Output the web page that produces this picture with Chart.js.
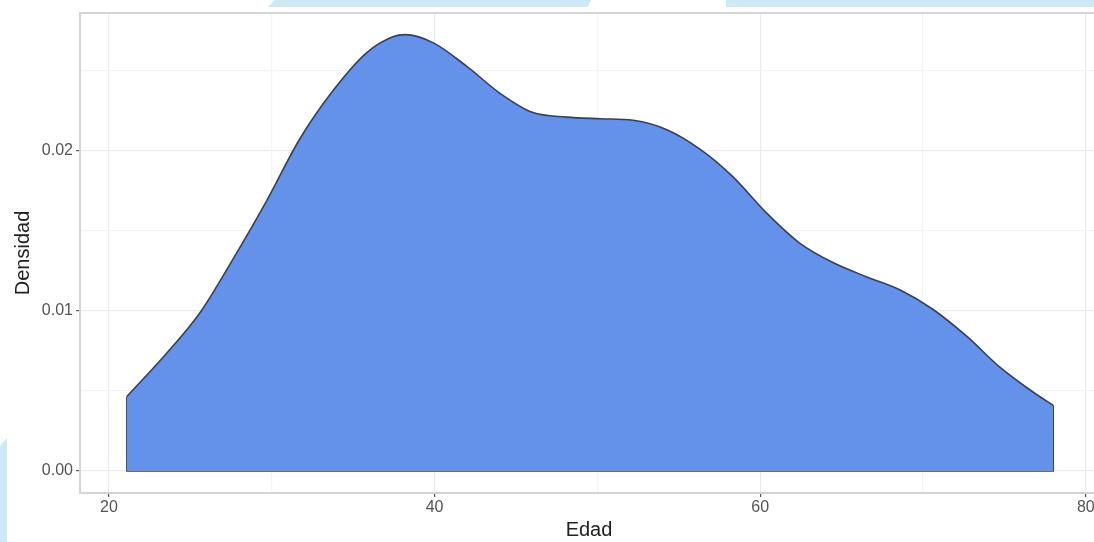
<!DOCTYPE html>
<html>
<head>
<meta charset="utf-8">
<script src="https://cdn.jsdelivr.net/npm/chart.js@4"></script>
<style>
  html, body { margin: 0; padding: 0; background: #fff; overflow: hidden; }
  #wrap { position: relative; width: 1094px; height: 542px; overflow: hidden; }
  .deco { position: absolute; background: #cce9f5; }
  #deco1 { left: 268px; top: 0; width: 323px; height: 7px; clip-path: polygon(2% 0, 100% 0, 99% 100%, 0 100%); }
  #deco2 { left: 726px; top: 0; width: 368px; height: 7px; }
  #deco3 { left: 0; top: 438px; width: 7px; height: 104px; clip-path: polygon(0 8%, 100% 0, 100% 100%, 0 100%); }
  #grafico { position: absolute; left: 0; top: 0; }
</style>
</head>
<body>
<div id="wrap">
  <div class="deco" id="deco1"></div>
  <div class="deco" id="deco2"></div>
  <div class="deco" id="deco3"></div>
  <canvas id="grafico" width="1100" height="542"></canvas>
</div>
<script>
// valores (densidade da idade)
const edad = [21.1, 23.5, 25.6, 27.6, 29.7, 31.7, 33.8, 35.8, 37.4, 38.2, 39.9, 42.0, 44.0, 46.0, 48.1, 50.2, 52.2, 54.3, 56.3, 58.3, 60.4, 62.4, 64.5, 66.6, 68.6, 70.6, 72.7, 74.7, 76.8, 78.0];
const densidad = [0.00465, 0.0073, 0.0099, 0.0132, 0.0169, 0.0207, 0.0238, 0.0261, 0.0271, 0.02725, 0.02675, 0.02525, 0.0236, 0.0224, 0.0221, 0.022, 0.0219, 0.0213, 0.0201, 0.0184, 0.0161, 0.01425, 0.013, 0.0121, 0.0113, 0.0101, 0.0084, 0.0065, 0.0049, 0.0041];

const ticksX = [20, 30, 40, 50, 60, 70, 80];
const ticksY = [0, 0.005, 0.01, 0.015, 0.02, 0.025];

const curva = edad.map((x, i) => ({ x: x, y: densidad[i] }));
const borda = [
  { x: edad[0], y: densidad[0] },
  { x: edad[0], y: 0 },
  { x: edad[edad.length - 1], y: 0 },
  { x: edad[edad.length - 1], y: densidad[densidad.length - 1] },
];

const ehMaior = (v, passo) => Math.abs(v / passo - Math.round(v / passo)) < 1e-6;

const ctx = document.getElementById("grafico").getContext("2d");

new Chart(ctx, {
  type: "line",
  data: {
    datasets: [
      {
        label: "Densidad",
        data: curva,
        fill: "origin",
        backgroundColor: "#6492ea",
        borderColor: "#404040",
        borderWidth: 1.6,
        cubicInterpolationMode: "monotone",
        pointRadius: 0,
      },
      {
        label: "borde",
        data: borda,
        fill: false,
        borderColor: "#404040",
        borderWidth: 1.6,
        tension: 0,
        pointRadius: 0,
      },
    ],
  },
  options: {
    animation: false,
    responsive: false,
    layout: { padding: { top: 13, left: 11, right: 2, bottom: 0 } },
    plugins: {
      legend: { display: false },
      tooltip: { enabled: false },
    },
    scales: {
      x: {
        type: "linear",
        min: 18.22,
        max: 80.75,
        afterFit: (scale) => { scale.height = 49; },
        afterBuildTicks: (scale) => { scale.ticks = ticksX.map((v) => ({ value: v })); },
        ticks: {
          color: "#555",
          font: { family: "Liberation Sans", size: 16 },
          padding: 1,
          maxRotation: 0,
          callback: (v) => (ehMaior(v, 20) ? String(v) : ""),
        },
        grid: {
          color: (c) => (c.tick && ehMaior(c.tick.value, 20) ? "#ebebeb" : "#f4f4f4"),
          tickColor: (c) => (c.tick && ehMaior(c.tick.value, 20) ? "#555" : "rgba(0,0,0,0)"),
          tickLength: 4,
          lineWidth: 1.2,
        },
        border: { color: "#d4d4d4", width: 2 },
        title: {
          display: true,
          text: "Edad",
          color: "#222",
          font: { family: "Liberation Sans", size: 20 },
          padding: { top: 0, bottom: 0 },
        },
      },
      y: {
        min: -0.001375,
        max: 0.0286,
        afterFit: (scale) => { scale.width = 69; },
        afterBuildTicks: (scale) => { scale.ticks = ticksY.map((v) => ({ value: v })); },
        ticks: {
          color: "#555",
          font: { family: "Liberation Sans", size: 16 },
          padding: 3,
          callback: (v) => (ehMaior(v, 0.01) ? v.toFixed(2) : ""),
        },
        grid: {
          color: (c) => (c.tick && ehMaior(c.tick.value, 0.01) ? "#ebebeb" : "#f4f4f4"),
          tickColor: (c) => (c.tick && ehMaior(c.tick.value, 0.01) ? "#555" : "rgba(0,0,0,0)"),
          tickLength: 4,
          lineWidth: 1.2,
        },
        border: { color: "#d4d4d4", width: 2 },
        title: {
          display: true,
          text: "Densidad",
          color: "#222",
          font: { family: "Liberation Sans", size: 20 },
          padding: { top: 0, bottom: 0 },
        },
      },
    },
  },
  plugins: [
    {
      id: "bordaPainel",
      afterDatasetsDraw(chart) {
        const a = chart.chartArea;
        const c = chart.ctx;
        c.save();
        c.strokeStyle = "#d4d4d4";
        c.lineWidth = 2;
        c.strokeRect(a.left, a.top, a.right - a.left, a.bottom - a.top);
        c.restore();
      },
    },
  ],
});
</script>
</body>
</html>
